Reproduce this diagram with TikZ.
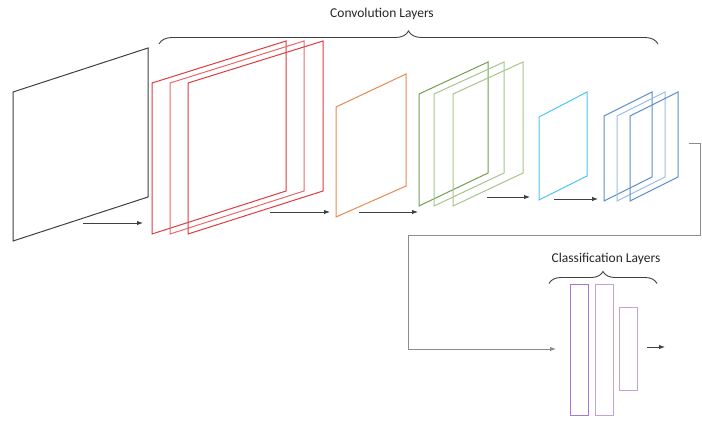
\documentclass[tikz,border=0pt]{standalone}
\usepackage{fontspec}
\setmainfont{Carlito}
\usetikzlibrary{arrows.meta,decorations.pathreplacing}
\definecolor{inkgray}{HTML}{404040}
\definecolor{linkgray}{HTML}{8C8C8C}
\definecolor{redA}{HTML}{DC3C40}
\definecolor{redB}{HTML}{E8686B}
\definecolor{orangeA}{HTML}{E58A52}
\definecolor{greenA}{HTML}{73A050}
\definecolor{greenB}{HTML}{A6C58E}
\definecolor{cyanA}{HTML}{4CC6F2}
\definecolor{blueA}{HTML}{5B8DC8}
\definecolor{blueB}{HTML}{9BBDE3}
\definecolor{purpleA}{HTML}{A878D8}
\definecolor{purpleB}{HTML}{C3A3DD}
% a tilted feature map: left x, right x, top-left y, bottom-left y, top-right y, bottom-right y
\newcommand\fmap[7][]{%
  \draw[mapline,#1] (#2,#4) -- (#3,#6) -- (#3,#7) -- (#2,#5) -- cycle;}
\begin{document}
\begin{tikzpicture}[x=1pt,y=-1pt,
  mapline/.style={line width=1pt, line join=miter},
  flow/.style={draw=inkgray, line width=1pt, -{Latex[length=6pt,width=4.5pt]}},
  link/.style={draw=linkgray, line width=1pt},
  bracebar/.style={draw=inkgray, line width=0.9pt, decorate,
    decoration={brace, amplitude=13pt}},
  title/.style={font=\fontsize{13.5}{15}\selectfont, text=black!85, inner sep=0pt},
  fcbar/.style={draw=purpleA, line width=1pt, inner sep=0pt, outer sep=0pt}]
\useasboundingbox (0,0) rectangle (702,421);

% input image
\fmap[inkgray]{13}{148}{92}{241}{48}{197}
% first convolution stack
\fmap[redA]{152}{286}{83}{234}{41}{191}
\fmap[redB]{170}{304}{83}{234}{41}{191}
\fmap[redA]{188}{323}{83}{234}{41}{191}
% pooling
\fmap[orangeA]{336}{406}{107}{217}{74}{186}
% second convolution stack
\fmap[greenA]{419}{488}{94}{206}{62}{173}
\fmap[greenB]{434}{504}{94}{206}{62}{173}
\fmap[greenB]{453}{523}{94}{206}{62}{173}
% pooling
\fmap[cyanA]{539}{587}{117}{200}{92}{176}
% third convolution stack
\fmap[blueA]{604}{652}{116}{201}{92}{177}
\fmap[blueB]{617}{665}{116}{201}{92}{177}
\fmap[blueA]{630}{678}{116}{201}{92}{177}

% arrows between stages
\coordinate (a1s) at (83,223);  \coordinate (a1e) at (143,223);
\coordinate (a2s) at (270,212); \coordinate (a2e) at (330,212);
\coordinate (a3s) at (359,212); \coordinate (a3e) at (418,212);
\coordinate (a4s) at (487,197); \coordinate (a4e) at (530,197);
\coordinate (a5s) at (554,199); \coordinate (a5e) at (598,199);
\draw[flow] (a1s) -- (a1e);
\draw[flow] (a2s) -- (a2e);
\draw[flow] (a3s) -- (a3e);
\draw[flow] (a4s) -- (a4e);
\draw[flow] (a5s) -- (a5e);

% classification bars
\node[fcbar, minimum width=18pt, minimum height=131pt, anchor=north west] (fc1) at (570.5,284.5) {};
\node[fcbar, draw=purpleB, minimum width=18pt, minimum height=131pt, anchor=north west] (fc2) at (595.5,284.5) {};
\node[fcbar, draw=purpleB, minimum width=18pt, minimum height=83pt, anchor=north west] (fc3) at (619.5,307.5) {};

% flatten link from the last stack down to the dense layers
\coordinate (fs) at (689,143.5);
\coordinate (fe) at (556,349);
\draw[link] (fs) -- (700,143.5) -- (700,235.5) -- (408.5,235.5) -- (408.5,349) -- (550,349);
\draw[flow, draw=linkgray] (549,349) -- (fe);
\coordinate (os) at (647,347); \coordinate (oe) at (665,347);
\draw[flow] (os) -- (oe);

% braces and their titles
\coordinate (cb1) at (159,44); \coordinate (cb2) at (658,44);
\draw[bracebar] (cb1) -- (cb2);
\node[title] (conv) at (382,14) {Convolution Layers};
\coordinate (kb1) at (549,283.5); \coordinate (kb2) at (657,283.5);
\draw[bracebar, decoration={brace, amplitude=12pt}] (kb1) -- (kb2);
\node[title] (cls) at (606,259) {Classification Layers};
\end{tikzpicture}
\end{document}
